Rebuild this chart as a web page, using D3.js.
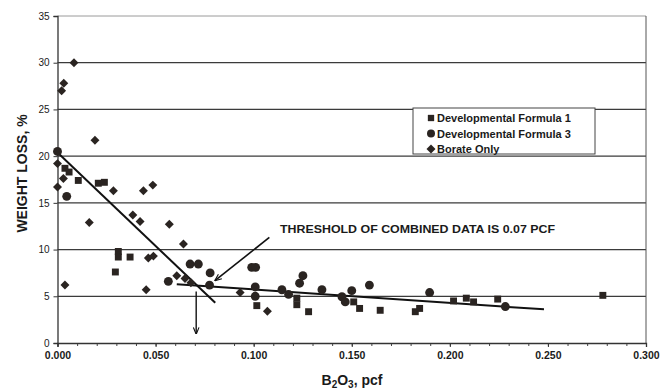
<!DOCTYPE html>
<html>
<head>
<meta charset="utf-8">
<script src="https://cdn.jsdelivr.net/npm/d3@7"></script>
<style>
html,body{margin:0;padding:0;background:#fff;}
svg{display:block;}
text{font-family:"Liberation Sans",Arial,sans-serif;fill:#1a1a1a;}
</style>
</head>
<body>
<svg id="chart" width="661" height="390"></svg>
<script>
// ---- data ----
const formula1 = [[0.0038,18.7],[0.0059,18.3],[0.0106,17.4],[0.0208,17.1],[0.0239,17.2],[0.031,9.8],[0.031,9.2],[0.037,9.2],[0.0295,7.6],[0.1016,4.0],[0.122,4.8],[0.122,4.1],[0.128,3.35],[0.151,4.4],[0.154,3.7],[0.1645,3.5],[0.1824,3.35],[0.1846,3.7],[0.2019,4.5],[0.2084,4.8],[0.2121,4.4],[0.2244,4.7],[0.278,5.1]];
const formula3 = [[0,20.5],[0.0047,15.7],[0.0565,6.6],[0.0676,8.45],[0.0718,8.45],[0.0778,7.5],[0.0775,6.2],[0.099,8.1],[0.101,8.1],[0.1008,6.0],[0.1008,5.0],[0.1144,5.7],[0.1178,5.2],[0.1234,6.4],[0.1251,7.2],[0.1348,5.7],[0.145,4.95],[0.1467,4.4],[0.150,5.6],[0.159,6.2],[0.1897,5.4],[0.2283,3.9]];
const borate = [[0.0084,30.0],[0.0032,27.8],[0.0021,27.0],[0.0191,21.7],[0,19.2],[0.003,17.6],[0,16.7],[0.0038,6.2],[0.0162,12.9],[0.0285,16.3],[0.0384,13.7],[0.0421,13.0],[0.0438,16.3],[0.0486,16.9],[0.057,12.7],[0.0642,10.6],[0.0463,9.1],[0.0489,9.3],[0.0452,5.7],[0.0608,7.2],[0.065,6.9],[0.068,6.45],[0.0931,5.4],[0.107,3.4]];
const trendSteep = [[0,20.4],[0.0804,4.3]];
const trendFlat = [[0.0608,6.3],[0.248,3.6]];
const arrowThreshold = [[0.108,11.3],[0.0804,6.7]];
const arrowDown = [[0.0707,5.5],[0.0707,1.0]];
const seriesNames = ["Developmental Formula 1","Developmental Formula 3","Borate Only"];
const yTicks = [0,5,10,15,20,25,30,35];
const xTicks = [0,0.05,0.1,0.15,0.2,0.25,0.3];
const xMinorTicks = d3.range(0,31).map(i=>i/100);
const annotationText = "THRESHOLD OF COMBINED DATA IS 0.07 PCF";

// ---- layout ----
const svg = d3.select("#chart");
const L=57.5, R=646, T=16, B=343;
const x = d3.scaleLinear().domain([0,0.3]).range([L,R]);
const y = d3.scaleLinear().domain([0,35]).range([B,T]);
const ink = "#2a2421";

// gridlines
svg.append("g").selectAll("line").data(yTicks.filter(d=>d>0)).join("line")
  .attr("x1",L).attr("x2",R).attr("y1",d=>y(d)).attr("y2",d=>y(d))
  .attr("stroke",d=>d===35?"#9a9a9a":"#3b3b3b").attr("stroke-width",d=>d===35?1:1.3);
// right border
svg.append("line").attr("x1",R).attr("x2",R).attr("y1",T).attr("y2",B).attr("stroke","#555").attr("stroke-width",1);

// y axis
const yAxis = svg.append("g").attr("transform",`translate(${L},0)`)
  .call(d3.axisLeft(y).tickValues(yTicks).tickSize(4).tickPadding(4).tickFormat(d3.format("d")));
yAxis.select(".domain").attr("stroke","#333").attr("stroke-width",1.3);
yAxis.selectAll(".tick line").attr("stroke","#333");
yAxis.selectAll("text").attr("font-size","10px").attr("font-family","'Liberation Sans Narrow','Liberation Sans',Arial").attr("fill","#1a1a1a");

// x axis minor
const xMinor = svg.append("g").attr("transform",`translate(0,${B})`)
  .call(d3.axisBottom(x).tickValues(xMinorTicks).tickSize(3).tickFormat(""));
xMinor.select(".domain").remove();
xMinor.selectAll(".tick line").attr("stroke","#444");
const xAxis = svg.append("g").attr("transform",`translate(0,${B})`)
  .call(d3.axisBottom(x).tickValues(xTicks).tickSize(4).tickPadding(5).tickFormat(d3.format(".3f")));
xAxis.select(".domain").attr("stroke","#333").attr("stroke-width",1.3);
xAxis.selectAll(".tick line").attr("stroke","#333");
xAxis.selectAll("text").attr("font-size","10.5px").attr("font-weight","bold").attr("font-family","'Liberation Sans Narrow','Liberation Sans',Arial").attr("fill","#1a1a1a");

// axis titles
svg.append("text").attr("transform",`translate(27,${(T+B)/2-6}) rotate(-90)`)
  .attr("text-anchor","middle").attr("font-size","14px").attr("font-weight","bold").text("WEIGHT LOSS, %");
const xt = svg.append("text").attr("x",352).attr("y",385).attr("text-anchor","middle")
  .attr("font-size","14px").attr("font-weight","bold");
xt.append("tspan").text("B");
xt.append("tspan").attr("font-size","10px").attr("dy",3).text("2");
xt.append("tspan").attr("dy",-3).text("O");
xt.append("tspan").attr("font-size","10px").attr("dy",3).text("3");
xt.append("tspan").attr("dy",-3).text(", pcf");

// trend lines
const line = d3.line().x(d=>x(d[0])).y(d=>y(d[1]));
svg.append("path").attr("d",line(trendSteep)).attr("stroke","#111").attr("stroke-width",2).attr("fill","none");
svg.append("path").attr("d",line(trendFlat)).attr("stroke","#111").attr("stroke-width",2).attr("fill","none");

// markers
const squareDiamond = {draw(ctx,size){const r=Math.sqrt(size/2);ctx.moveTo(0,-r);ctx.lineTo(r,0);ctx.lineTo(0,r);ctx.lineTo(-r,0);ctx.closePath();}};
const sym = {
  sq: d3.symbol().type(d3.symbolSquare).size(48),
  ci: d3.symbol().type(d3.symbolCircle).size(62),
  di: d3.symbol().type(squareDiamond).size(40)
};
function plot(data, s){
  svg.append("g").selectAll("path").data(data).join("path")
    .attr("transform",d=>`translate(${x(d[0])},${y(d[1])})`)
    .attr("d",s).attr("fill",ink);
}
plot(formula1, sym.sq());
plot(formula3, sym.ci());
plot(borate, sym.di());

// arrows
svg.append("defs").append("marker").attr("id","ah").attr("viewBox","0 0 10 10")
  .attr("refX",9).attr("refY",5).attr("markerWidth",7).attr("markerHeight",7)
  .attr("markerUnits","userSpaceOnUse").attr("orient","auto")
  .append("path").attr("d","M0,1 L10,5 L0,9").attr("fill","none").attr("stroke","#111").attr("stroke-width",1.6);
svg.append("path").attr("d",line(arrowThreshold)).attr("stroke","#111").attr("stroke-width",1.6).attr("fill","none").attr("marker-end","url(#ah)");
svg.append("path").attr("d",line(arrowDown)).attr("stroke","#111").attr("stroke-width",1.4).attr("fill","none").attr("marker-end","url(#ah)");

// annotation
svg.append("text").attr("x",280).attr("y",233).attr("font-size","11.5px").attr("font-weight","bold")
  .attr("font-family","'Liberation Sans Narrow','Liberation Sans',Arial").attr("textLength",275).attr("lengthAdjust","spacingAndGlyphs")
  .text(annotationText);

// legend
const lg = svg.append("g").attr("transform","translate(413,108)");
lg.append("rect").attr("width",182).attr("height",46).attr("fill","#fff").attr("stroke","#444").attr("stroke-width",1);
seriesNames.forEach((n,i)=>{
  const yy = 10 + i*15.5;
  lg.append("path").attr("transform",`translate(18,${yy})`).attr("d",d3.symbol().type([d3.symbolSquare,d3.symbolCircle,squareDiamond][i]).size([40,50,40][i])()).attr("fill",ink);
  lg.append("text").attr("x",24).attr("y",yy+4).attr("font-size","11px").attr("font-weight","bold").text(n);
});
</script>
</body>
</html>
